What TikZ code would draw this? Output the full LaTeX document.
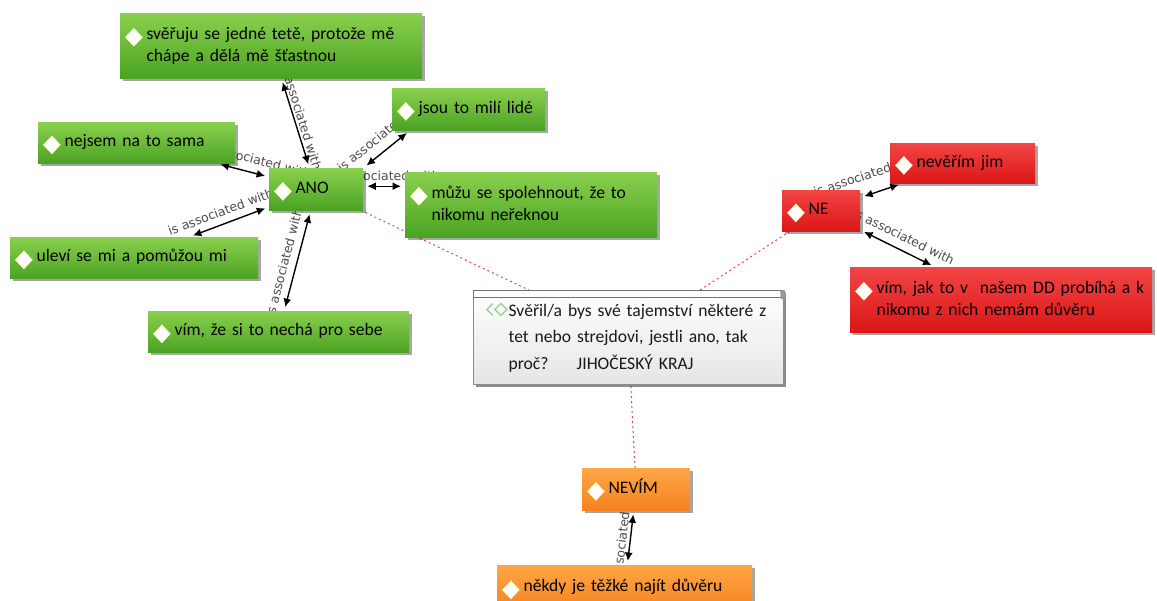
\documentclass[tikz,border=0pt]{standalone}
\usepackage{fontspec}
\setmainfont{Carlito}
\newfontfamily\tagfont{DejaVu Sans}
\usetikzlibrary{shapes.geometric,arrows.meta,shadows,backgrounds}

\definecolor{grntop}{HTML}{8AD04E}
\definecolor{grnbot}{HTML}{4BA322}
\definecolor{redtop}{HTML}{F24545}
\definecolor{redbot}{HTML}{DB1616}
\definecolor{orgtop}{HTML}{FFA646}
\definecolor{orgbot}{HTML}{F5821F}
\definecolor{linkred}{HTML}{E5404D}
\definecolor{qgreen}{HTML}{9AD39A}

% white diamond in front of each entry
\newcommand{\gem}{\tikz[baseline=-6.5pt]\node[diamond,fill=white,draw=white!75!yellow,
  line width=.6pt,inner sep=0pt,minimum width=17pt,minimum height=18pt]{};\hspace{4pt}}
\newcommand{\gemrow}[1]{\gem\begin{tabular}[t]{@{}l@{}}#1\end{tabular}}
% double icon of the question
\newcommand{\qicon}{\tikz[baseline=-6.5pt,line width=1.4pt,qgreen]{
  \draw (0,-6) -- (-6,0) -- (0,6);
  \draw (2,0) -- (8,6) -- (14,0) -- (8,-6) -- cycle;}\hspace{1pt}}

\tikzset{
  box/.style={anchor=north west,rectangle,inner xsep=5pt,inner ysep=2pt,align=left,
    font=\fontsize{17.6}{22}\selectfont,text=black,
    drop shadow={shadow xshift=2.5pt,shadow yshift=-2.5pt,opacity=.35,fill=black}},
  greenbox/.style={box,top color=grntop,bottom color=grnbot},
  redbox/.style={box,top color=redtop,bottom color=redbot},
  orangebox/.style={box,top color=orgtop,bottom color=orgbot},
  question/.style={anchor=north west,rectangle,draw=black!45,inner xsep=13pt,align=left,
    top color=white,bottom color=black!10,font=\fontsize{17.6}{26.5}\selectfont,text=black!90,
    drop shadow={shadow xshift=2.5pt,shadow yshift=-2.5pt,opacity=.45,fill=black}},
  assoc/.style={<->,>={Latex[length=8.5pt,width=8pt]},line width=1.4pt,
    shorten <=4pt,shorten >=4pt},
  tag/.style={sloped,font=\tagfont\fontsize{12.5}{14}\selectfont,text=black!70,inner sep=2pt},
  link/.style={linkred,line width=1pt,dash pattern=on 2pt off 3pt},
}

\begin{document}
\begin{tikzpicture}[x=1pt,y=-1pt]
\clip (0,0) rectangle (1157,600);

% ANO
\node[greenbox,text width=292pt,minimum height=65pt] (sveruju) at (120,13)
  {\gemrow{svěřuju se jedné tetě, protože mě\\ chápe a dělá mě šťastnou}};
\node[greenbox,text width=143pt,minimum height=42pt] (jsou) at (392,88) {\gemrow{jsou to milí lidé}};
\node[greenbox,text width=187pt,minimum height=41pt] (nejsem) at (38,122) {\gemrow{nejsem na to sama}};
\node[greenbox,text width=84pt,minimum height=42pt] (ano) at (269,168) {\gemrow{ANO}};
\node[greenbox,text width=242pt,minimum height=65pt] (muzu) at (405,172)
  {\gemrow{můžu se spolehnout, že to\\ nikomu neřeknou}};
\node[greenbox,text width=238pt,minimum height=41pt] (ulevi) at (10,237) {\gemrow{uleví se mi a pomůžou mi}};
\node[greenbox,text width=251pt,minimum height=41pt] (vimze) at (148,311) {\gemrow{vím, že si to nechá pro sebe}};

% otazka
\node[question,text width=284pt,minimum height=94pt] (q) at (473,290)
  {\qicon\begin{tabular}[t]{@{}l@{}}Svěřil/a bys své tajemství některé z\\ tet nebo strejdovi, jestli ano, tak\\
   proč?\hspace{1.6em}JIHOČESKÝ KRAJ\end{tabular}};
\draw[black!55,fill=white,line width=.8pt] (q.north west) rectangle ([yshift=-7pt]q.north east);
\fill[black!40,rounded corners=1pt] ([xshift=-3pt]q.north east) rectangle ([xshift=2pt,yshift=-9pt]q.north east);

% NE
\node[redbox,text width=68pt,minimum height=41pt] (ne) at (782,190) {\gemrow{NE}};
\node[redbox,text width=135pt,minimum height=40pt] (neverim) at (890,143) {\gemrow{nevěřím jim}};
\node[redbox,text width=292pt,minimum height=65pt] (vimjak) at (850,267)
  {\gemrow{vím, jak to v\ \ našem DD probíhá a k\\ nikomu z nich nemám důvěru}};

% NEVIM
\node[orangebox,text width=98pt,minimum height=42pt] (nevim) at (582,468) {\gemrow{NEVÍM}};
\node[orangebox,text width=245pt,minimum height=45pt] (nekdy) at (497,565) {\gemrow{někdy je těžké najít důvěru}};

\begin{scope}[on background layer]
\draw[link] (ano) -- (q);
\draw[link] (ne) -- (q);
\draw[link] (nevim) -- (q);
\draw[assoc] (sveruju) -- node[tag,above,pos=.45]{is associated with} (ano);
\draw[assoc] (nejsem) -- node[tag,above=6pt,pos=.7]{is associated with} (ano);
\draw[assoc] (ulevi) -- node[tag,above=5pt,pos=.45]{is associated with} (ano);
\draw[assoc] (vimze) -- node[tag,above=5pt,pos=.45]{is associated with} (ano);
\draw[assoc] (ano.north east) -- node[tag,above=7pt,pos=.6]{is associated with}
  ([xshift=18pt]jsou.south west);
\draw[assoc] ([yshift=3pt]ano.east) -- node[tag,above=3pt]{is associated with}
  ([yshift=3pt]ano.east -| muzu.west);
\draw[assoc] (ne) -- node[tag,above=12pt,pos=.3]{is associated with} (neverim);
\draw[assoc] (ne) -- node[tag,above=6pt,pos=.5]{is associated with} (vimjak);
\draw[assoc] (nevim) -- node[tag,above=1pt]{is associated with} (nekdy);
\end{scope}
\end{tikzpicture}
\end{document}
